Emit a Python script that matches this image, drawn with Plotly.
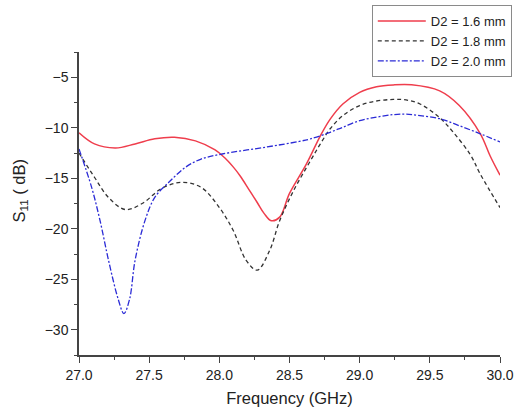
import plotly.graph_objects as go

# D2 = 1.6 mm
f_16 = [27.00, 27.11, 27.26, 27.40, 27.54, 27.68, 27.83, 27.97, 28.04, 28.10, 28.15, 28.21, 28.27,
        28.32, 28.37, 28.43, 28.50, 28.62, 28.72, 28.79, 28.88, 29.00, 29.12, 29.24, 29.37, 29.57,
        29.71, 29.86, 29.93, 30.00]
s_16 = [-10.5, -11.6, -12.0, -11.6, -11.1, -10.95, -11.3, -12.2, -13.0, -13.9, -14.8, -16.1, -17.4,
        -18.5, -19.2, -18.85, -16.5, -13.6, -10.8, -9.15, -7.65, -6.5, -5.95, -5.76, -5.75, -6.35,
        -7.8, -10.6, -12.8, -14.7]

# D2 = 1.8 mm
f_18 = [27.00, 27.11, 27.21, 27.33, 27.45, 27.59, 27.73, 27.87, 28.00, 28.10, 28.19, 28.27,
        28.36, 28.43, 28.53, 28.65, 28.72, 28.79, 28.88, 29.00, 29.12, 29.24, 29.33, 29.43, 29.57,
        29.67, 29.79, 29.86, 30.00]
s_18 = [-12.5, -14.9, -16.9, -18.1, -17.5, -16.0, -15.4, -15.9, -17.9, -20.2, -23.1, -24.1,
        -22.1, -19.2, -16.2, -13.25, -11.6, -10.1, -8.8, -7.8, -7.35, -7.2, -7.25, -7.65, -9.0,
        -10.5, -12.7, -14.6, -17.9]

# D2 = 2.0 mm
f_20 = [27.00, 27.09, 27.15, 27.21, 27.28, 27.32, 27.36, 27.40, 27.47, 27.54, 27.64, 27.76,
        27.87, 28.02, 28.34, 28.57, 28.65, 28.79, 28.88, 29.00, 29.12, 29.24, 29.33, 29.43, 29.57,
        29.71, 29.86, 30.00]
s_20 = [-12.1, -15.9, -19.2, -23.1, -27.0, -28.4, -27.0, -23.1, -19.2, -16.9, -15.4, -13.9,
        -13.1, -12.6, -11.9, -11.35, -11.1, -10.45, -9.95, -9.3, -8.95, -8.7, -8.65, -8.8, -9.1,
        -9.8, -10.6, -11.4]

labels = ["D2 = 1.6 mm", "D2 = 1.8 mm", "D2 = 2.0 mm"]

fig = go.Figure()
fig.add_trace(go.Scatter(x=f_16, y=s_16, name=labels[0], mode="lines",
                         line=dict(color="#ef3d4c", width=1.5, shape="spline", smoothing=1.0)))
fig.add_trace(go.Scatter(x=f_18, y=s_18, name=labels[1], mode="lines",
                         line=dict(color="#333333", width=1.3, dash="4px,3px", shape="spline", smoothing=1.0)))
fig.add_trace(go.Scatter(x=f_20, y=s_20, name=labels[2], mode="lines",
                         line=dict(color="#2b2bd6", width=1.3, dash="6px,2px,2px,2px", shape="spline", smoothing=1.0)))

axis_font = dict(family="Liberation Sans, Arial, sans-serif", size=14, color="#222222")
fig.update_layout(
    width=514, height=408,
    margin=dict(l=79, r=14, t=52, b=53, autoexpand=False),
    paper_bgcolor="white", plot_bgcolor="white",
    font=dict(family="Liberation Sans, Arial, sans-serif", size=14, color="#222222"),
    showlegend=True,
    legend=dict(x=1.028, y=1.155, xanchor="right", yanchor="top",
                bordercolor="#8a8a8a", borderwidth=1, bgcolor="white",
                font=dict(size=13), tracegroupgap=0, itemwidth=48),
    xaxis=dict(range=[27.0, 30.0], tick0=27.0, dtick=0.5, tickformat=".1f",
               showgrid=False, zeroline=False, showline=True, linecolor="#444444", linewidth=1.5,
               ticks="outside", ticklen=6, tickwidth=1.3, tickcolor="#444444", tickfont=axis_font,
               minor=dict(ticks="outside", dtick=0.25, ticklen=3, tickwidth=1, tickcolor="#444444"),
               title=dict(text="Frequency (GHz)", font=dict(size=16.5), standoff=11)),
    yaxis=dict(range=[-32.5, -2.5], tick0=-30, dtick=5,
               showgrid=False, zeroline=False, showline=True, linecolor="#444444", linewidth=1.5,
               ticks="outside", ticklen=6, tickwidth=1.3, tickcolor="#444444", tickfont=axis_font),
    annotations=[dict(text="S<sub>11</sub> ( dB)", textangle=-90, xref="paper", yref="paper",
                      x=-0.14, y=0.54, xanchor="center", yanchor="middle", showarrow=False,
                      font=dict(size=16.5, color="#222222"))],
)
fig.update_yaxes(minor=dict(ticks="outside", dtick=2.5, ticklen=3, tickwidth=1, tickcolor="#444444"))
fig.write_html("out.html")
